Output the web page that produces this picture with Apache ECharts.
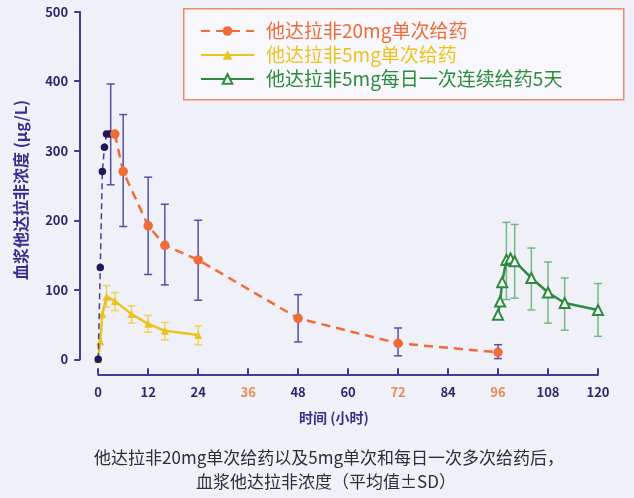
<!DOCTYPE html>
<html><head><meta charset="utf-8">
<script src="https://cdn.jsdelivr.net/npm/echarts@6/dist/echarts.min.js"></script>
<style>html,body{margin:0;padding:0;background:#eff0f8;}#c{width:634px;height:498px;}</style>
</head><body><div id="c"></div>
<script>
// ---- data ----
const seriesNames = ['他达拉非20mg单次给药', '他达拉非5mg单次给药', '他达拉非5mg每日一次连续给药5天'];
// 20 mg early absorption points (dark)
const t20early = [0, 0.5, 1, 1.5, 2, 2.75];
const v20early = [0, 132, 270, 305, 324, 324];
// 20 mg later points (orange)
const t20 = [4, 6, 12, 16, 24, 48, 72, 96];
const v20 = [324, 270, 192, 164, 143, 59, 23, 10];
const e20t = [3, 6, 12, 16, 24, 48, 72, 96];
const e20lo = [251, 191, 122, 107, 85, 25, 5, 1];
const e20hi = [396, 352, 262, 223, 200, 93, 45, 21];
// 5 mg single
const t5 = [0, 0.5, 1, 2, 4, 8, 12, 16, 24];
const v5 = [0, 26, 65, 90, 84, 65, 51, 41, 35];
const e5t = [2, 4, 8, 12, 16, 24];
const e5lo = [75, 70, 52, 39, 28, 21];
const e5hi = [106, 96, 77, 63, 53, 48];
// 5 mg daily x5
const t5d = [96, 96.5, 97, 98, 99, 100, 104, 108, 112, 120];
const v5d = [64, 83, 111, 143, 145, 141, 117, 96, 81, 71];
const e5dt = [98, 100, 104, 108, 112, 120];
const e5dlo = [86, 88, 71, 52, 42, 33];
const e5dhi = [197, 194, 160, 140, 117, 109];
// axis
const yTicks = [0, 100, 200, 300, 400, 500];
const xTicks = [0, 12, 24, 36, 48, 60, 72, 84, 96, 108, 120];
const xHighlight = [36, 72, 96];
const yTitle = '血浆他达拉非浓度 (μg/L)';
const xTitle = '时间 (小时)';
const caption1 = '他达拉非20mg单次给药以及5mg单次和每日一次多次给药后，';
const caption2 = '血浆他达拉非浓度（平均值±SD）';

const NAVY = '#2b2870', AXIS = '#463b94';
const ORANGE = '#ef6b37', YELLOW = '#eac41e', GREEN = '#2d8a3e';
const FONT = '"Noto Sans CJK SC","Noto Sans",sans-serif';

function zip(a, b) { return a.map((x, i) => [x, b[i]]); }
function errSeries(ts, lo, hi, color) {
  return {
    type: 'custom', silent: true, z: 1,
    data: ts.map((t, i) => [t, lo[i], hi[i]]),
    encode: { x: 0, y: [1, 2] },
    renderItem: function (params, api) {
      const a = api.coord([api.value(0), api.value(1)]);
      const b = api.coord([api.value(0), api.value(2)]);
      const w = 4;
      const st = { stroke: color, lineWidth: 1.5 };
      return { type: 'group', children: [
        { type: 'line', shape: { x1: a[0], y1: a[1], x2: b[0], y2: b[1] }, style: st },
        { type: 'line', shape: { x1: a[0] - w, y1: a[1], x2: a[0] + w, y2: a[1] }, style: st },
        { type: 'line', shape: { x1: b[0] - w, y1: b[1], x2: b[0] + w, y2: b[1] }, style: st }
      ] };
    }
  };
}

const chart = echarts.init(document.getElementById('c'), null, { renderer: 'canvas' });
chart.setOption({
  animation: false,
  textStyle: { fontFamily: FONT },
  grid: { left: 98.2, right: 36, top: 11.7, bottom: 138.7 },
  xAxis: {
    type: 'value', min: 0, max: 120, interval: 12, offset: 15,
    axisLine: { show: true, onZero: false, lineStyle: { color: AXIS, width: 2 } },
    axisTick: { show: true, inside: true, length: 6, lineStyle: { color: AXIS, width: 2 } },
    splitLine: { show: false },
    axisLabel: {
      margin: 11, fontSize: 13, fontWeight: 'bold', color: NAVY, fontFamily: FONT,
      formatter: v => xTicks.includes(v) ? (xHighlight.includes(v) ? '{o|' + v + '}' : String(v)) : '',
      rich: { o: { color: '#ec8a55', fontSize: 13, fontWeight: 'bold', fontFamily: FONT } }
    }
  },
  yAxis: {
    type: 'value', min: yTicks[0], max: yTicks[yTicks.length - 1], interval: 100, offset: 18,
    axisLine: { show: true, onZero: false, lineStyle: { color: AXIS, width: 2 } },
    axisTick: { show: true, length: 6, lineStyle: { color: AXIS, width: 2 } },
    splitLine: { show: false },
    axisLabel: { margin: 12, fontSize: 13, fontWeight: 'bold', color: NAVY, fontFamily: FONT }
  },
  legend: {
    orient: 'vertical', left: 195, top: 16, itemWidth: 53, itemHeight: 12, itemGap: 4,
    textStyle: { fontSize: 19, lineHeight: 20, fontFamily: FONT, padding: [0, 0, 0, 7] },
    data: [
      { name: seriesNames[0], textStyle: { color: ORANGE } },
      { name: seriesNames[1], textStyle: { color: YELLOW } },
      { name: seriesNames[2], textStyle: { color: GREEN } }
    ]
  },
  graphic: [
    { type: 'rect', left: 183, top: 8, z: -1, shape: { width: 440, height: 91 },
      style: { fill: 'rgba(255,255,255,0.55)', stroke: '#f08a6c', lineWidth: 1.5 } },
    { type: 'text', x: 21, y: 190, rotation: Math.PI / 2,
      style: { text: yTitle, fontSize: 16, fontWeight: 'bold', fill: '#3a2f8c', fontFamily: FONT, align: 'center', verticalAlign: 'middle' } },
    { type: 'text', x: 334, y: 418,
      style: { text: xTitle, fontSize: 14, fontWeight: 'bold', fill: '#3a2f8c', fontFamily: FONT, align: 'center', verticalAlign: 'middle' } },
    { type: 'text', x: 329, y: 458,
      style: { text: caption1, fontSize: 17, fill: '#2e2e3a', fontFamily: FONT, align: 'center', verticalAlign: 'middle' } },
    { type: 'text', x: 326, y: 482,
      style: { text: caption2, fontSize: 17, fill: '#2e2e3a', fontFamily: FONT, align: 'center', verticalAlign: 'middle' } }
  ],
  series: [
    errSeries(e20t, e20lo, e20hi, '#5a4ea4'),
    errSeries(e5t, e5lo, e5hi, '#ecd55a'),
    errSeries(e5dt, e5dlo, e5dhi, '#74b981'),
    {
      name: seriesNames[1], type: 'line', z: 3, data: zip(t5, v5),
      symbol: 'triangle', symbolSize: 8,
      lineStyle: { color: YELLOW, width: 2.5 }, itemStyle: { color: YELLOW }
    },
    {
      name: 'early', type: 'line', z: 4, data: zip(t20early, v20early),
      symbol: 'circle', symbolSize: 7.5,
      lineStyle: { color: '#46428a', width: 1.5, type: [6, 4] }, itemStyle: { color: '#1d1a5c' }
    },
    {
      name: seriesNames[0], type: 'line', z: 4, data: zip(t20, v20),
      symbol: 'circle', symbolSize: 9.5,
      lineStyle: { color: ORANGE, width: 2.5, type: [9, 6] }, itemStyle: { color: ORANGE }
    },
    {
      name: seriesNames[2], type: 'line', z: 4, data: zip(t5d, v5d),
      symbol: 'emptyTriangle', symbolSize: 10,
      lineStyle: { color: GREEN, width: 2.5 }, itemStyle: { color: GREEN, borderWidth: 1.5 }
    }
  ]
});
</script></body></html>
